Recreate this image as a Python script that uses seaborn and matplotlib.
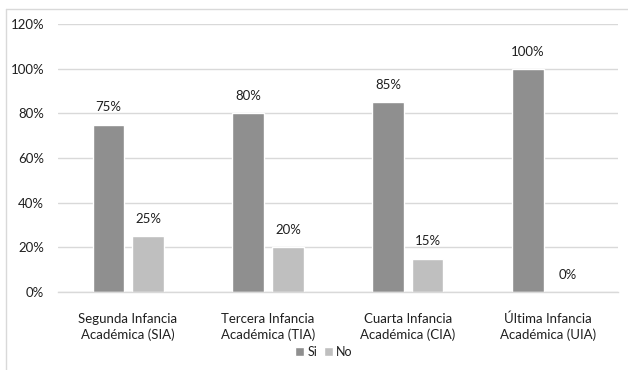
import matplotlib
matplotlib.use("Agg")
import matplotlib.pyplot as plt
import matplotlib.lines as mlines
import seaborn as sns
import pandas as pd

categories = ["Segunda Infancia\nAcadémica (SIA)", "Tercera Infancia\nAcadémica (TIA)",
              "Cuarta Infancia\nAcadémica (CIA)", "Última Infancia\nAcadémica (UIA)"]
si_values = [75, 80, 85, 100]
no_values = [25, 20, 15, 0]
series = ["Si", "No"]
y_ticks = [0, 20, 40, 60, 80, 100, 120]

df = pd.DataFrame({
    "cat": categories * 2,
    "val": si_values + no_values,
    "serie": [series[0]] * len(categories) + [series[1]] * len(categories),
})

sns.set_theme(style="white")
plt.rcParams["font.family"] = ["Lato", "DejaVu Sans"]
text_color = "#1f1f1f"
fs = 9.5

fig = plt.figure(figsize=(6.28, 3.70), dpi=100)
ax = fig.add_axes([0.0924, 0.2108, 0.8916, 0.7242])

palette = {"Si": "#8f8f8f", "No": "#bfbfbf"}
sns.barplot(data=df, x="cat", y="val", hue="serie", palette=palette,
            width=0.57, gap=0.22, ax=ax, legend=True, saturation=1)

ax.set_ylim(0, 120)
ax.set_xlim(-0.5, 3.5)
ax.set_yticks(y_ticks)
ax.set_yticklabels([f"{t}%" for t in y_ticks], fontsize=fs, color=text_color)
ax.tick_params(axis="x", labelsize=fs, labelcolor=text_color, length=0, pad=15)
ax.tick_params(axis="y", length=0, pad=10)
for lbl in ax.get_xticklabels():
    lbl.set_linespacing(1.3)
ax.set_xlabel("")
ax.set_ylabel("")
ax.yaxis.grid(True, color="#d9d9d9", linewidth=1)
ax.set_axisbelow(True)
for s in ["top", "right", "left"]:
    ax.spines[s].set_visible(False)
ax.spines["bottom"].set_color("#d9d9d9")
ax.spines["bottom"].set_linewidth(1)

for cont in ax.containers:
    ax.bar_label(cont, labels=[f"{v:.0f}%" for v in cont.datavalues],
                 padding=8, fontsize=fs, color=text_color)

handles, labels = ax.get_legend_handles_labels()
ax.legend(handles, labels, loc="center", bbox_to_anchor=(0.475, -0.224),
          ncol=2, frameon=False, fontsize=9, handlelength=0.7, handleheight=0.7,
          handletextpad=0.3, columnspacing=0.5, labelcolor=text_color)

# light frame around the chart
fig.add_artist(mlines.Line2D([6/628, 1], [1 - 9/370, 1 - 9/370], color="#d9d9d9", lw=1,
                             transform=fig.transFigure))
fig.add_artist(mlines.Line2D([6/628, 6/628], [0, 1 - 9/370], color="#d9d9d9", lw=1,
                             transform=fig.transFigure))

fig.savefig("out.png", dpi=100, facecolor="white")
